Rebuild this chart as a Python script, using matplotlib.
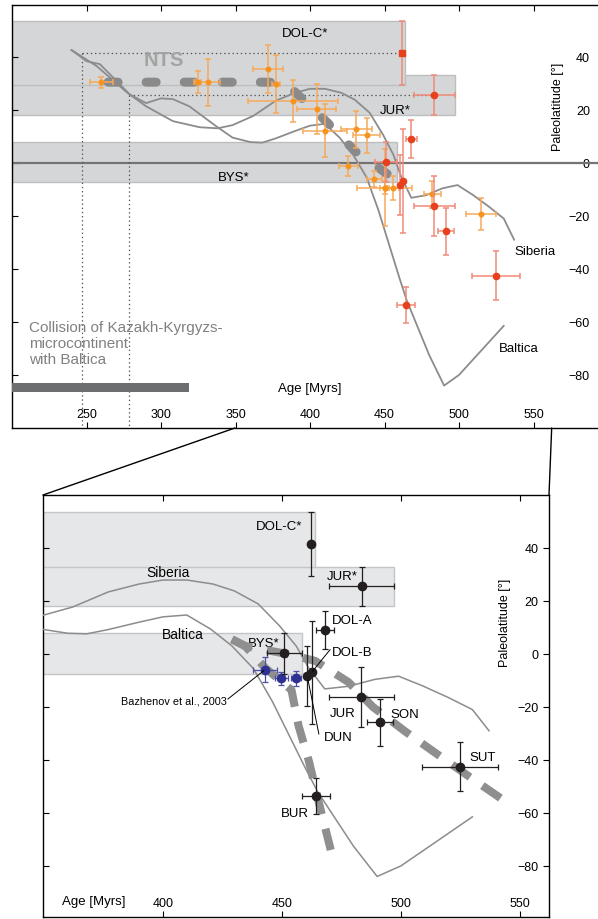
import numpy as np
import matplotlib
matplotlib.use('Agg')
import matplotlib.pyplot as plt
from matplotlib.patches import Rectangle, ConnectionPatch

plt.rcParams['font.family'] = ['Liberation Sans', 'DejaVu Sans']
plt.rcParams['lines.scale_dashes'] = False

# apparent polar wander paths, expressed as paleolatitude of the site
sib_age = [240, 257, 277, 290, 308, 326, 338, 348, 362, 377, 390, 400, 410, 421, 430,
           440, 449, 456, 461, 468, 478, 489, 499, 509, 520, 530, 537]
sib_lat = [42.5, 36.4, 26.6, 21.3, 15.7, 13.4, 13.0, 14.2, 17.7, 23.4, 26.4, 27.9, 27.9,
           26.4, 23.8, 18.9, 10.6, 3.0, -5.0, -13.2, -12.2, -9.6, -8.4, -12.0, -16.5,
           -21.0, -29.0]
balt_age = [240, 250, 259, 279, 290, 300, 308, 319, 337, 348, 360, 368, 377, 390, 400,
            410, 420, 429, 438, 446, 460, 465, 480, 490, 500, 530]
balt_lat = [42.5, 38.3, 37.2, 25.8, 22.5, 24.3, 24.0, 21.3, 13.8, 9.5, 7.8, 7.6, 9.2,
            12.0, 14.0, 14.7, 9.4, 3.0, -5.5, -18.0, -43.4, -52.0, -72.5, -84.0, -80.0,
            -61.5]

# new results: age, paleolatitude and their errors
site_names = ['DOL-C*', 'JUR*', 'BYS*', 'DOL-A', 'DOL-B', 'DUN', 'JUR', 'SON', 'SUT', 'BUR']
site_age = [462.0, 483.5, 451.0, 468.0, 462.5, 460.4, 483.4, 491.2, 524.7, 464.3]
site_lat = [41.5, 25.5, 0.3, 9.0, -6.9, -8.2, -16.3, -25.8, -42.5, -53.7]
site_dage = [1.7, 13.6, 7.3, 3.8, 1.5, 1.5, 13.6, 5.6, 16.0, 6.0]
site_dlat = [12.0, 7.5, 7.7, 7.2, 19.5, 11.3, 11.4, 8.8, 9.4, 6.7]

# Bazhenov et al., 2003
baz_age = [443.0, 449.8, 455.9]
baz_lat = [-6.0, -9.2, -9.2]
baz_dage = [5.0, 2.8, 2.1]
baz_dlat = [4.7, 2.5, 2.8]

# published North Tien Shan data
lit_age = [260.0, 324.5, 331.6, 372.0, 377.0, 388.7, 404.4, 410.0, 431.0, 438.0, 425.6,
           443.0, 450.0, 450.0, 455.8, 482.2, 514.6]
lit_lat = [30.3, 30.5, 30.3, 35.5, 29.6, 23.3, 20.4, 12.0, 12.6, 10.4, -1.2,
           -6.2, -9.4, -9.4, -9.4, -11.9, -19.2]
lit_dage = [7.5, 2.6, 8.0, 10.0, 2.8, 30.0, 13.0, 15.0, 10.5, 9.0, 6.4,
            5.0, 18.5, 2.8, 4.0, 6.0, 10.0]
lit_dlat = [2.0, 4.2, 8.8, 9.0, 11.0, 8.0, 9.4, 10.0, 7.0, 6.6, 3.8,
            3.0, 14.5, 2.5, 4.5, 5.0, 6.0]

# trend of the NTS data
nts_age = [264.5, 383, 395, 412, 430, 450, 458]
nts_lat = [30.4, 30.4, 24.0, 15.0, 4.5, -3.5, -6.5]
trend1_age = [429, 434.5, 443, 454, 457, 461.3, 465.1, 470.5]
trend1_lat = [5.5, 3.0, -5.3, -13.6, -27.2, -40.4, -54.7, -74.0]
trend2_age = [429, 434.5, 452, 463.9, 477.9, 488.2, 502, 515, 528.2, 546]
trend2_lat = [5.5, 3.0, 0.0, -2.6, -10.6, -20.0, -29.4, -37.7, -46.0, -57.0]

# ages where the path reaches the DOL-C* and JUR* latitudes
dolc_cross = 247
jur_cross = 278.5
collision_age = [200, 319]

xticks_top = [250, 300, 350, 400, 450, 500, 550]
xticks_bot = [400, 450, 500, 550]
yticks = [-80, -60, -40, -20, 0, 20, 40]

curve_col = '#8c8c8c'
orange = '#f7941d'
orange_err = '#f7a95a'
red = '#e8401c'
red_err = '#f08a78'

fig = plt.figure(figsize=(5.98, 9.2), dpi=100)
ax1 = fig.add_axes([12 / 598, 1 - 429 / 920, 596 / 598, 423 / 920])
ax2 = fig.add_axes([43 / 598, 1 - 918 / 920, 506 / 598, 422 / 920])

ax1.set_xlim(200, 600)
ax1.set_ylim(-100, 59.5)
ax2.set_xlim(349.6, 562.2)
ax2.set_ylim(-99.3, 60)

for ax, fill, edge in [(ax1, '#d5d6d8', '#bdbec0'), (ax2, '#e6e7e8', '#c4c5c7')]:
    lo = ax.get_xlim()[0]
    order = [1, 0, 2] if ax is ax1 else [0, 1, 2]
    for z, i in enumerate(order):
        right = site_age[i] + site_dage[i]
        ax.add_patch(Rectangle((lo, site_lat[i] - site_dlat[i]), right - lo,
                               2 * site_dlat[i], facecolor=fill, edgecolor=edge,
                               lw=1.0, zorder=1 + z * 0.1))

# upper panel
ax1.axhline(0, color='#747474', lw=1.6, zorder=2)
ax1.plot([dolc_cross, site_age[0]], [site_lat[0], site_lat[0]], ls=(0, (1, 2)),
         color='#555555', lw=0.9, zorder=2)
ax1.plot([dolc_cross, dolc_cross], [site_lat[0], -100], ls=(0, (1, 2)),
         color='#555555', lw=0.9, zorder=2)
ax1.plot([jur_cross, site_age[1]], [site_lat[1], site_lat[1]], ls=(0, (1, 2)),
         color='#555555', lw=0.9, zorder=2)
ax1.plot([jur_cross, jur_cross], [site_lat[1], -100], ls=(0, (1, 2)),
         color='#555555', lw=0.9, zorder=2)

ax1.plot(sib_age, sib_lat, color=curve_col, lw=1.3, zorder=3)
ax1.plot(balt_age, balt_lat, color=curve_col, lw=1.3, zorder=3)
ax1.plot(nts_age, nts_lat, color='#8a8a8a', lw=6.5, dashes=(7.2, 20.2),
         solid_capstyle='round', dash_capstyle='round', zorder=4)
ax1.text(302, 39, 'NTS', color='#a3a3a3', fontsize=14.5, fontweight='bold',
         ha='center', va='center', zorder=4)

ax1.errorbar(lit_age, lit_lat, xerr=lit_dage, yerr=lit_dlat, fmt='o', ms=3.3,
             color=orange, ecolor=orange_err, elinewidth=1.1, capsize=2.5,
             capthick=1.1, zorder=5)
for i in range(len(site_names)):
    xe = site_dage[i] if site_dage[i] > 2 else None
    mk = 's' if i == 0 else 'o'
    ax1.errorbar(site_age[i], site_lat[i], xerr=xe, yerr=site_dlat[i], fmt=mk,
                 ms=4.5, color=red, ecolor=red_err, elinewidth=1.1, capsize=2.5,
                 capthick=1.1, zorder=6)

ax1.add_patch(Rectangle((collision_age[0], -86.6), collision_age[1] - collision_age[0],
                        3.4, facecolor='#6d6e70', edgecolor='none', zorder=3))
ax1.text(211.3, -59.3, 'Collision of Kazakh-Kyrgyzs-\nmicrocontinent\nwith Baltica',
         color='#808080', fontsize=11, ha='left', va='top', linespacing=1.2)
ax1.text(396.5, 49, 'DOL-C*', fontsize=9.5, ha='center', va='center')
ax1.text(457, 20, 'JUR*', fontsize=9.5, ha='center', va='center')
ax1.text(349, -5.5, 'BYS*', fontsize=9.5, ha='center', va='center')
ax1.text(551, -33.4, 'Siberia', fontsize=9.5, ha='center', va='center')
ax1.text(540, -69.7, 'Baltica', fontsize=9.5, ha='center', va='center')
ax1.text(378.4, -84.9, 'Age [Myrs]', fontsize=9.5, ha='left', va='center')
ax1.text(566.3, 21.5, 'Paleolatitude [°]', fontsize=9, rotation=90,
         ha='center', va='center')

# lower panel
ax2.plot(sib_age, sib_lat, color=curve_col, lw=1.1, zorder=3)
ax2.plot(balt_age, balt_lat, color=curve_col, lw=1.1, zorder=3)
for ta, tl in [(trend1_age, trend1_lat), (trend2_age, trend2_lat)]:
    ax2.plot(ta, tl, color='#8f8f8f', lw=5.8, dashes=(15.8, 10.8),
             dash_capstyle='butt', zorder=4)

ax2.errorbar(baz_age, baz_lat, xerr=baz_dage, yerr=baz_dlat, fmt='o', ms=6,
             color='#2e3192', ecolor='#4b4fa6', elinewidth=0.9, capsize=2.2,
             capthick=0.9, zorder=5)
for i in range(len(site_names)):
    xe = site_dage[i] if site_dage[i] > 2 else None
    ax2.errorbar(site_age[i], site_lat[i], xerr=xe, yerr=site_dlat[i], fmt='o',
                 ms=6, color='#231f20', ecolor='#231f20', elinewidth=0.9,
                 capsize=2.2, capthick=0.9, zorder=6)

ax2.text(458.4, 48.3, 'DOL-C*', fontsize=9.5, ha='right', va='center')
ax2.text(475.2, 29.4, 'JUR*', fontsize=9.5, ha='center', va='center')
ax2.text(442.4, 4.2, 'BYS*', fontsize=9.5, ha='center', va='center')
ax2.text(471, 13, 'DOL-A', fontsize=9.5, ha='left', va='center')
ax2.text(471, 0.7, 'DOL-B', fontsize=9.5, ha='left', va='center')
ax2.text(467.6, -31.3, 'DUN', fontsize=9.5, ha='left', va='center')
ax2.text(481, -22.3, 'JUR', fontsize=9.5, ha='right', va='center')
ax2.text(495.4, -22.6, 'SON', fontsize=9.5, ha='left', va='center')
ax2.text(528.6, -39, 'SUT', fontsize=9.5, ha='left', va='center')
ax2.text(461.3, -60, 'BUR', fontsize=9.5, ha='right', va='center')
ax2.text(402.3, 30.9, 'Siberia', fontsize=10, ha='center', va='center')
ax2.text(408.4, 7.5, 'Baltica', fontsize=10, ha='center', va='center')
ax2.text(426.9, -17.7, 'Bazhenov et al., 2003', fontsize=7.8, ha='right', va='center')
ax2.plot([427.3, 442.4], [-17.0, -6.3], color='k', lw=0.7, zorder=7)
ax2.plot([470.2, 462.9], [1.6, -6.5], color='k', lw=0.7, zorder=7)
ax2.plot([465.5, 461.0], [-30.2, -10.0], color='k', lw=0.7, zorder=7)
ax2.text(357.6, -93.2, 'Age [Myrs]', fontsize=9.5, ha='left', va='center')
ax2.text(543.7, 12.1, 'Paleolatitude [°]', fontsize=9, rotation=90,
         ha='center', va='center')

for ax, xt, ypad in [(ax1, xticks_top, -13.0), (ax2, xticks_bot, -7.5)]:
    ax.set_xticks(xt)
    ax.set_yticks(yticks)
    ax.tick_params(axis='x', direction='in', top=True, bottom=True, length=4,
                   pad=-14.5, labelsize=9)
    ax.tick_params(axis='y', direction='in', left=True, right=True, length=4,
                   labelleft=False, labelright=True, pad=ypad, labelsize=9)
    for lbl in ax.get_yticklabels():
        lbl.set_horizontalalignment('right')
    for s in ax.spines.values():
        s.set_linewidth(1.0)

# zoom connectors between the panels
for xa, xb in [(349.6, 349.6), (562.2, 562.2)]:
    con = ConnectionPatch(xyA=(xa, -100), coordsA=ax1.transData,
                          xyB=(xb, 60), coordsB=ax2.transData,
                          color='k', lw=1.0)
    fig.add_artist(con)

fig.savefig('out.png', dpi=100)
